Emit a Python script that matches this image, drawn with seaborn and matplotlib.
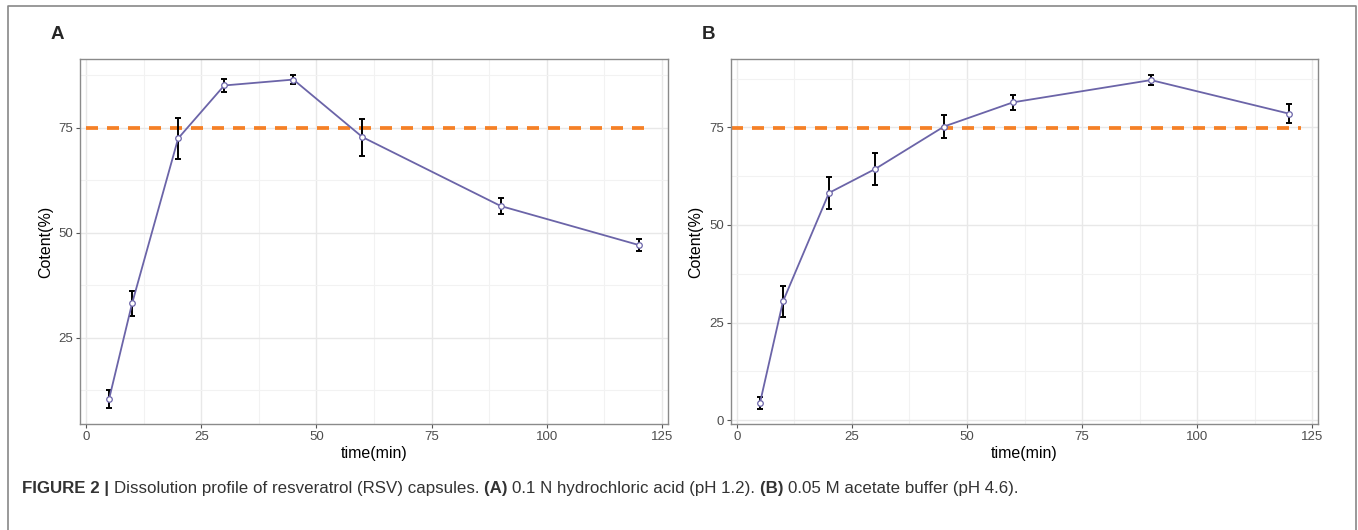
"""Dissolution profile of resveratrol capsules (two panels)."""

import matplotlib
matplotlib.use("Agg")
import matplotlib.pyplot as plt
import numpy as np
import pandas as pd
import seaborn as sns

# --- data ---
time_min = [5, 10, 20, 30, 45, 60, 90, 120]

content_a = [10.4, 33.2, 72.5, 85.1, 86.5, 72.8, 56.4, 47.1]
sd_a = [2.2, 3.0, 4.8, 1.6, 1.1, 4.4, 1.9, 1.35]

content_b = [4.4, 30.4, 58.2, 64.3, 75.2, 81.4, 87.1, 78.5]
sd_b = [1.6, 3.95, 4.2, 4.1, 3.0, 2.0, 1.2, 2.5]

limit_a = 75
limit_b = 74.7
x_ticks = [0, 25, 50, 75, 100, 125]

caption_parts = [
    ("FIGURE 2 | ", "bold"),
    ("Dissolution profile of resveratrol (RSV) capsules. ", "normal"),
    ("(A) ", "bold"),
    ("0.1 N hydrochloric acid (pH 1.2). ", "normal"),
    ("(B) ", "bold"),
    ("0.05 M acetate buffer (pH 4.6).", "normal"),
]

LINE = "#6b64a8"
ORANGE = "#f58026"
GRID = "#e8e8e8"
EDGE = "#8a8a8a"

sns.set_theme(style="white")
plt.rcParams["font.family"] = ["Liberation Sans", "DejaVu Sans"]

fig = plt.figure(figsize=(13.58, 5.30), dpi=100)
W, H = 1358, 530


def px_axes(left, top, right, bottom):
    return fig.add_axes([left / W, 1 - bottom / H, (right - left) / W, (bottom - top) / H])


def draw_panel(ax, y, sd, limit, hline_start, ylim, yticks, label):
    df = pd.DataFrame({"time": time_min, "content": y, "sd": sd})
    ax.errorbar(df["time"], df["content"], yerr=df["sd"], fmt="none",
                ecolor="black", elinewidth=1.4, capsize=2.2, capthick=1.4, zorder=3)
    sns.lineplot(data=df, x="time", y="content", color=LINE, lw=1.3, ax=ax, zorder=4)
    sns.scatterplot(data=df, x="time", y="content", s=16, color="white",
                    edgecolor=LINE, linewidth=0.9, ax=ax, zorder=5)
    ax.plot([hline_start, 122.7], [limit, limit], color=ORANGE, lw=2.7,
            dashes=(3.2, 2.4), zorder=2, solid_capstyle="butt")

    ax.set_xlim(-1.3, 126.3)
    ax.set_ylim(*ylim)
    ax.set_xticks(x_ticks)
    ax.set_yticks(yticks)
    ax.set_xticks([12.5, 37.5, 62.5, 87.5, 112.5], minor=True)
    ymin = [t + 12.5 for t in yticks] + [yticks[0] - 12.5]
    ax.set_yticks([m for m in ymin if ylim[0] < m < ylim[1]], minor=True)
    ax.grid(True, which="major", color=GRID, lw=1.0)
    ax.grid(True, which="minor", color="#f2f2f2", lw=0.8)
    ax.set_axisbelow(True)
    for s in ax.spines.values():
        s.set_color(EDGE)
        s.set_linewidth(1.0)
    ax.tick_params(axis="both", which="major", length=3, width=0.8, color="#555555",
                   labelsize=9.5, labelcolor="#4d4d4d", pad=2, bottom=True, left=True)
    ax.tick_params(axis="both", which="minor", length=0)
    ax.set_xlabel("time(min)", fontsize=11.5, color="black", labelpad=2)
    ax.set_ylabel("Cotent(%)", fontsize=11.5, color="black", labelpad=4)
    ax.text(-0.05, 1.068, label, transform=ax.transAxes, fontsize=13.5,
            fontweight="bold", ha="left", va="center")


ax_a = px_axes(80, 59, 668, 424)
draw_panel(ax_a, content_a, sd_a, limit_a, 0, (4.5, 91.4), [25, 50, 75], "A")

ax_b = px_axes(731, 59, 1318, 424)
draw_panel(ax_b, content_b, sd_b, limit_b, -1.3, (-1.0, 92.5), [0, 25, 50, 75], "B")

# outer frame (left, top, right)
fig.add_artist(plt.Line2D([8 / W, 8 / W, 1356 / W, 1356 / W],
                          [0, 1 - 6 / H, 1 - 6 / H, 0], color="#888888", lw=1.2))

# caption, pieces placed one after another
renderer = fig.canvas.get_renderer()
x_px = 22
for text, weight in caption_parts:
    t = fig.text(x_px / W, 1 - 489 / H, text, fontsize=12.15, fontweight=weight,
                 color="#333333", ha="left", va="center")
    x_px += t.get_window_extent(renderer).width

fig.savefig("out.png", dpi=100)
plt.close(fig)
